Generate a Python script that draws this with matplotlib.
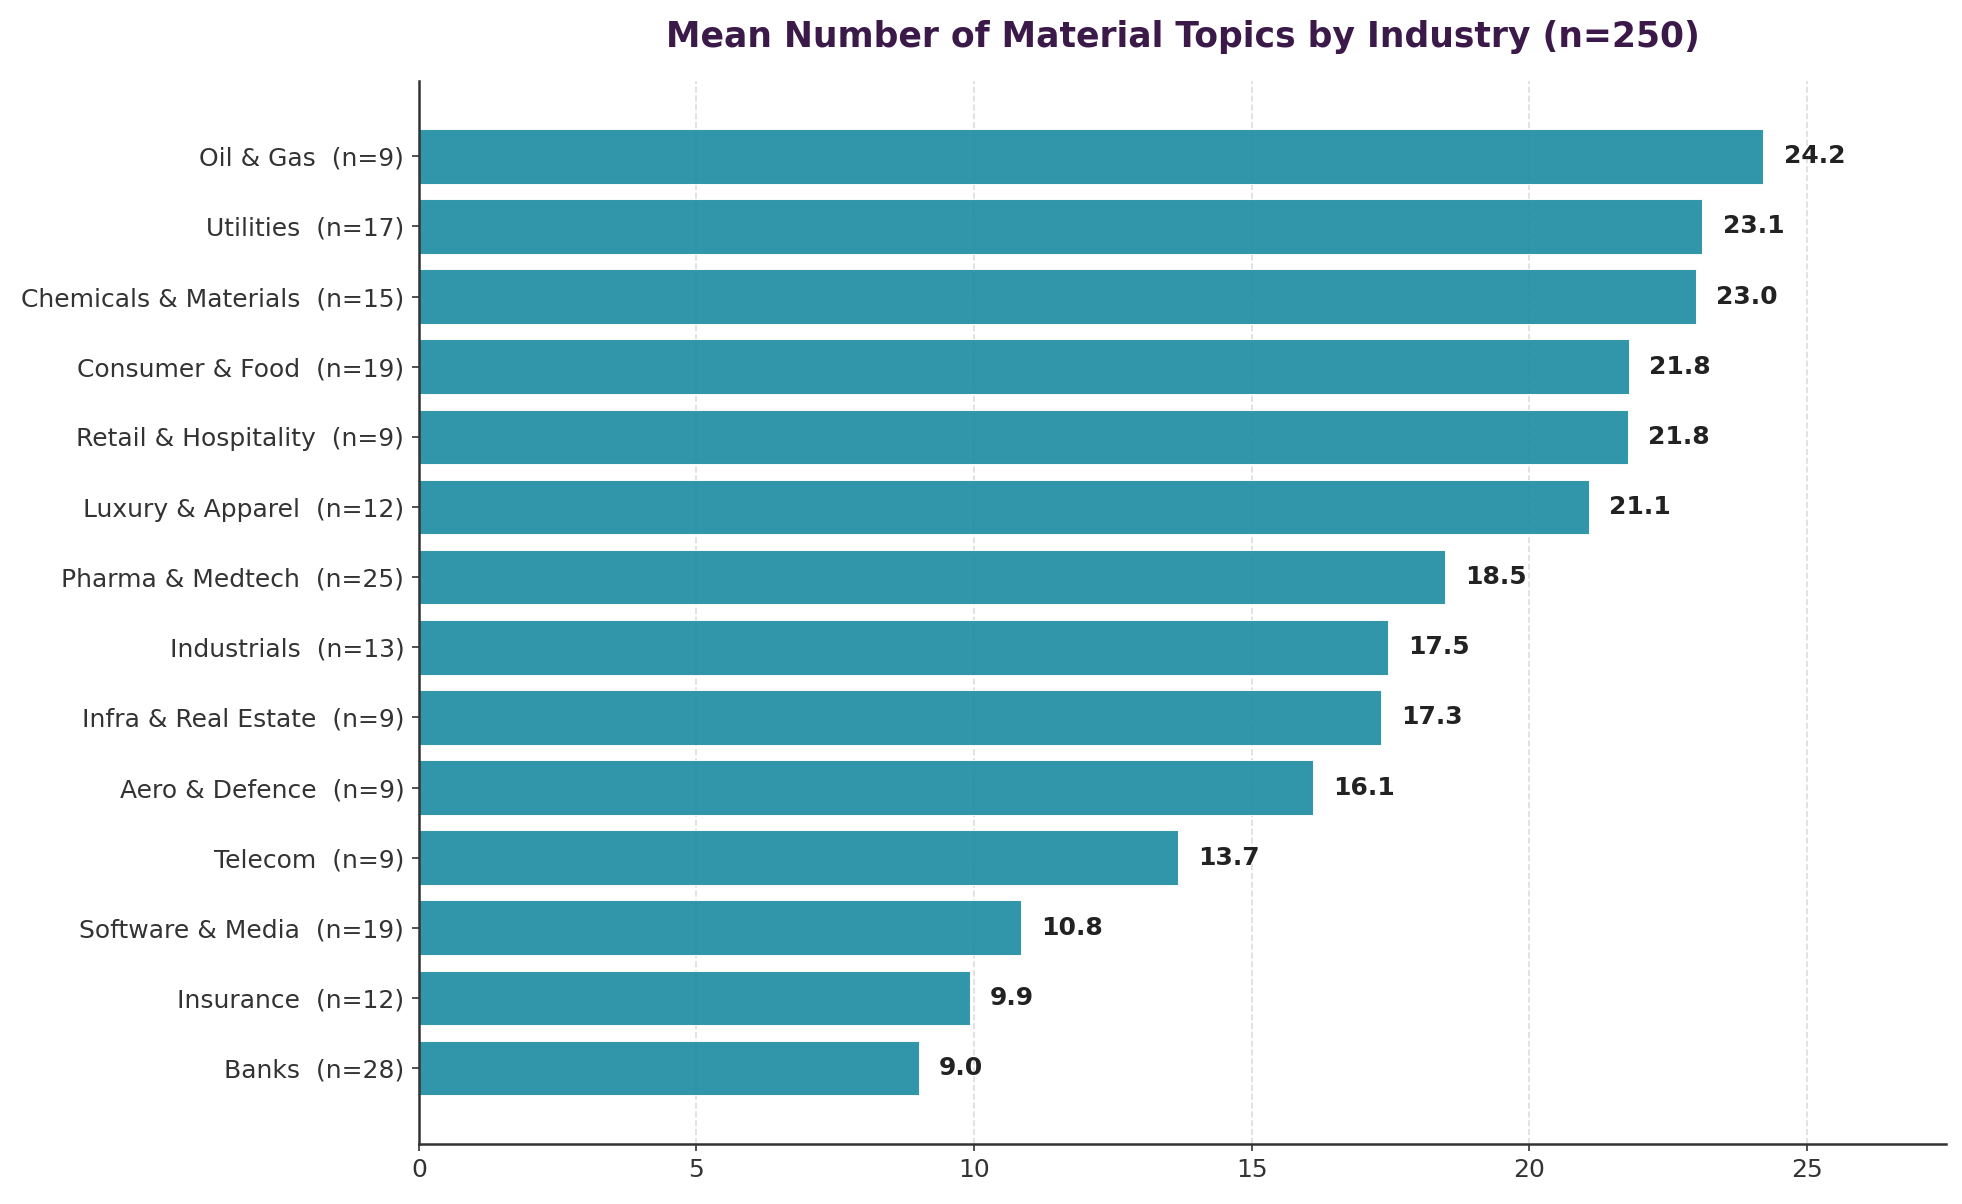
import numpy as np
import matplotlib.pyplot as plt

# industry means, top to bottom as shown
industries = ["Oil & Gas", "Utilities", "Chemicals & Materials", "Consumer & Food",
              "Retail & Hospitality", "Luxury & Apparel", "Pharma & Medtech",
              "Industrials", "Infra & Real Estate", "Aero & Defence", "Telecom",
              "Software & Media", "Insurance", "Banks"]
counts = [9, 17, 15, 19, 9, 12, 25, 13, 9, 9, 9, 19, 12, 28]
means = [24.22, 23.12, 23.0, 21.79, 21.78, 21.08, 18.48, 17.46, 17.33, 16.11,
         13.67, 10.84, 9.92, 9.0]

labels = ["%s  (n=%d)" % (name, n) for name, n in zip(industries, counts)]

fig, ax = plt.subplots(figsize=(13.08, 8.027), dpi=150)
fig.subplots_adjust(left=0.2135, right=0.992, top=0.933, bottom=0.05)

ypos = np.arange(len(labels))[::-1]
ax.barh(ypos, means, height=0.78, color="#1A8BA0", alpha=0.9,
        edgecolor="white", linewidth=0.5, zorder=2)

off = max(means) * 0.015
for y, v in zip(ypos, means):
    ax.text(v + off, y, "%.1f" % v, va="center", ha="left",
            fontsize=12, fontweight="bold", color="#222222", zorder=3)

ax.set_yticks(ypos)
ax.set_yticklabels(labels, fontsize=12, color="#333333")
ax.set_xlim(0, max(means) * 1.136)
ax.set_xticks([0, 5, 10, 15, 20, 25])
ax.tick_params(axis="x", labelsize=12, colors="#333333")
ax.tick_params(axis="y", colors="#333333")

ax.grid(axis="x", linestyle="--", color="#dddddd", linewidth=0.8, zorder=0)
ax.set_axisbelow(True)
for s in ["top", "right"]:
    ax.spines[s].set_visible(False)
for s in ["left", "bottom"]:
    ax.spines[s].set_color("#333333")
    ax.spines[s].set_linewidth(1.2)

ax.set_title("Mean Number of Material Topics by Industry (n=250)",
             fontsize=16.6, fontweight="bold", color="#3B1A4A", pad=16)

plt.savefig("out.png", dpi=150)
